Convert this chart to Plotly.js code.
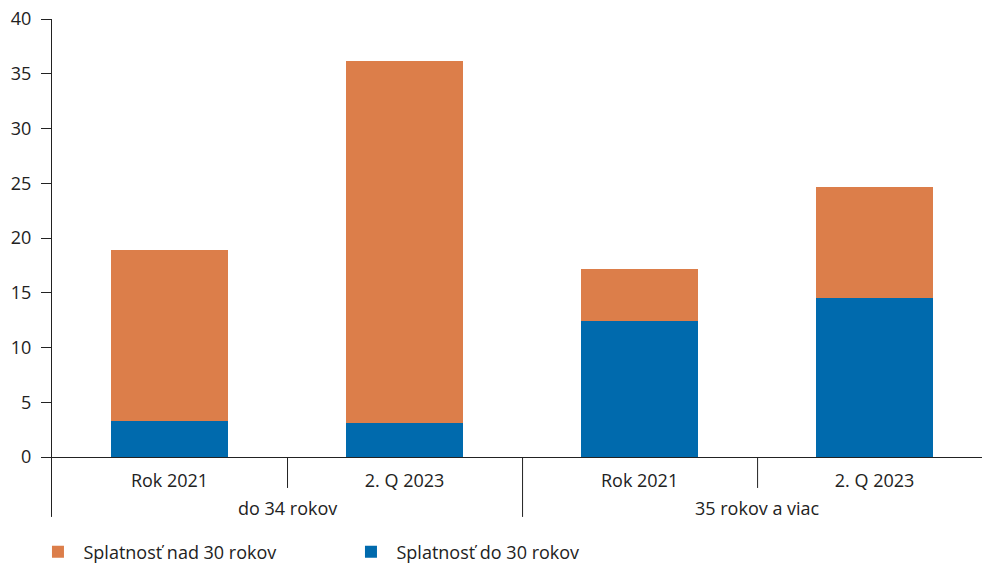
<!DOCTYPE html>
<html>
<head>
<meta charset="utf-8">
<script src="https://cdn.plot.ly/plotly-3.0.1.min.js"></script>
<style>html,body{margin:0;padding:0;background:#fff;}#chart{width:982px;height:565px;}</style>
</head>
<body>
<div id="chart"></div>
<script>
const groups = ["do 34 rokov", "do 34 rokov", "35 rokov a viac", "35 rokov a viac"];
const periods = ["Rok 2021", "2. Q 2023", "Rok 2021", "2. Q 2023"];
const seriesNames = ["Splatnosť do 30 rokov", "Splatnosť nad 30 rokov"];
const under30 = [3.28, 3.15, 12.39, 14.49];
const over30 = [15.65, 33.02, 4.78, 10.16];
const yTicks = [0, 5, 10, 15, 20, 25, 30, 35, 40];

const PLOT_H = 565 - 19 - 107.5;
const px = p => -p / PLOT_H;   // pixels below the x axis -> paper fraction
const idx = periods.map((_, i) => i);
const font = {family: "Open Sans, sans-serif", size: 18, color: "#222"};
const lineCol = "#222";

// boundaries between neighbouring bars; longer divider where group changes
function divider(xref, anchor, len, off) {
  return {type: "line", xref: xref, yref: "paper", xsizemode: "pixel", xanchor: anchor,
          x0: off, x1: off, y0: 0, y1: px(len), line: {color: lineCol, width: 1}};
}
const shapes = [divider("paper", 0, 60, -0.5)];
for (let i = 1; i < idx.length; i++) {
  const isGroupEdge = groups[i] !== groups[i - 1];
  shapes.push(divider("x", i - 0.5, isGroupEdge ? 60 : 31, 0.5));
}
// group labels
const annotations = [];
const uniq = [...new Set(groups)];
uniq.forEach(g => {
  const members = idx.filter(i => groups[i] === g);
  const mid = members.reduce((a, b) => a + b, 0) / members.length;
  annotations.push({xref: "x", yref: "paper", x: mid, y: px(51.5), yanchor: "middle",
                    text: g, showarrow: false, font: font});
});

const traces = [
  {type: "bar", name: seriesNames[0], x: idx, y: under30,
   marker: {color: "#006AAD", line: {width: 0}}, width: 0.5},
  {type: "bar", name: seriesNames[1], x: idx, y: over30,
   marker: {color: "#DC7E4A", line: {width: 0}}, width: 0.5}
];
const layout = {
  width: 982, height: 565,
  margin: {l: 52, r: 0, t: 19, b: 107.5, autoexpand: false},
  barmode: "stack",
  font: font,
  paper_bgcolor: "#fff", plot_bgcolor: "#fff",
  showlegend: true,
  legend: {orientation: "h", x: -0.021, xanchor: "left", y: -0.175, yanchor: "top",
           traceorder: "reversed", entrywidth: 257, entrywidthmode: "pixels", itemwidth: 41,
           font: {family: "Open Sans, sans-serif", size: 18, color: "#222"}},
  xaxis: {type: "linear", range: [-0.5, 3.457], showline: true, linecolor: lineCol, linewidth: 1,
          tickvals: idx, ticktext: periods, ticks: "", ticklabelstandoff: 7, automargin: false,
          showgrid: false, zeroline: false, tickfont: font},
  yaxis: {range: [0, 40], tickvals: yTicks, ticks: "outside", ticklen: 10, tickcolor: lineCol,
          showline: true, linecolor: lineCol, linewidth: 1, showgrid: false, zeroline: false,
          automargin: false, tickfont: font, ticklabelstandoff: 6},
  shapes: shapes,
  annotations: annotations
};
Plotly.newPlot("chart", traces, layout, {displayModeBar: false, staticPlot: true});
</script>
</body>
</html>
